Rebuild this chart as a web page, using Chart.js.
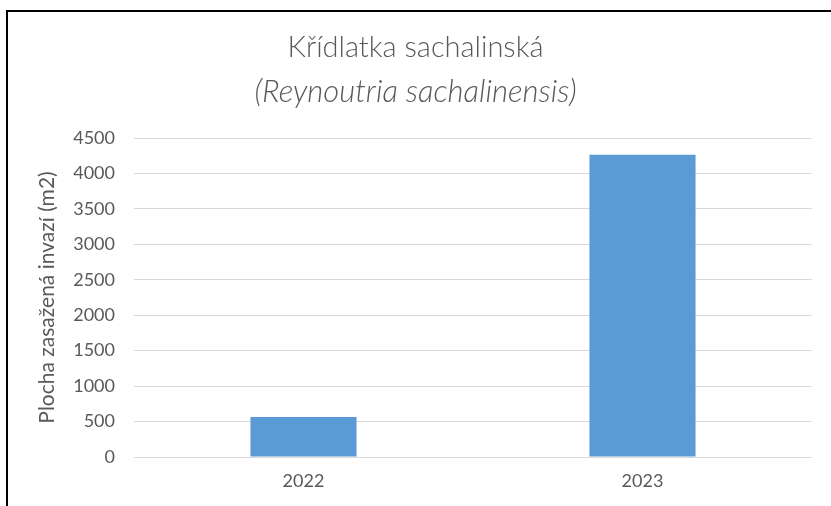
<!DOCTYPE html>
<html>
<head>
<meta charset="utf-8">
<script src="https://cdn.jsdelivr.net/npm/chart.js@4"></script>
<style>
  html, body { margin: 0; padding: 0; background: #fff; }
  #wrap { position: relative; width: 831px; height: 506px; overflow: hidden; }
  #frame { position: absolute; left: 6px; top: 10px; right: -4px; bottom: -4px;
           border-top: 2px solid #000; border-left: 2px solid #000; }
  canvas { position: absolute; left: 0; top: 0; }
</style>
</head>
<body>
<div id="wrap">
  <div id="frame"></div>
  <canvas id="chart" width="831" height="506"></canvas>
</div>
<script>
const years = ['2022', '2023'];
const area = [565, 4265];
const yTicks = [0, 500, 1000, 1500, 2000, 2500, 3000, 3500, 4000, 4500];

const grey = '#595959';
const font = 'Lato, "Open Sans", sans-serif';

let ctx = document.getElementById('chart');
let chart = new Chart(ctx, {
    type: 'bar',
    data: {
        labels: years,
        datasets: [{
            label: 'Plocha',
            data: area,
            backgroundColor: '#5b9bd5',
            borderWidth: 0,
            barPercentage: 0.313,
            categoryPercentage: 1
        }]
    },
    options: {
        responsive: false,
        animation: false,
        layout: { padding: { left: 19, right: 19, top: 0, bottom: 0 } },
        plugins: {
            legend: { display: false },
            tooltip: { enabled: false },
            title: {
                display: true,
                text: 'Křídlatka sachalinská',
                color: grey,
                font: { family: font, size: 29, weight: 300 },
                padding: { top: 30, bottom: 9 }
            },
            subtitle: {
                display: true,
                text: '(Reynoutria sachalinensis)',
                color: grey,
                font: { family: font, size: 31, style: 'italic', weight: 300 },
                padding: { top: 0, bottom: 27 }
            }
        },
        scales: {
            x: {
                grid: { display: false },
                border: { display: false },
                ticks: { color: grey, padding: 5, font: { family: font, size: 18 } },
                afterFit: (scale) => { scale.height = 49; }
            },
            y: {
                min: 0,
                max: 4500,
                afterBuildTicks: (scale) => { scale.ticks = yTicks.map(v => ({ value: v })); },
                grid: { color: '#d9d9d9', lineWidth: 1, drawTicks: false },
                border: { display: false },
                ticks: {
                    color: grey, padding: 19, font: { family: font, size: 18 },
                    callback: (v) => String(v)
                },
                title: {
                    display: true,
                    text: 'Plocha zasažená invazí (m2)',
                    color: grey,
                    font: { family: font, size: 21 },
                    padding: { top: 16, bottom: 0 }
                },
                afterFit: (scale) => { scale.width = 115; }
            }
        }
    }
});
</script>
</body>
</html>
